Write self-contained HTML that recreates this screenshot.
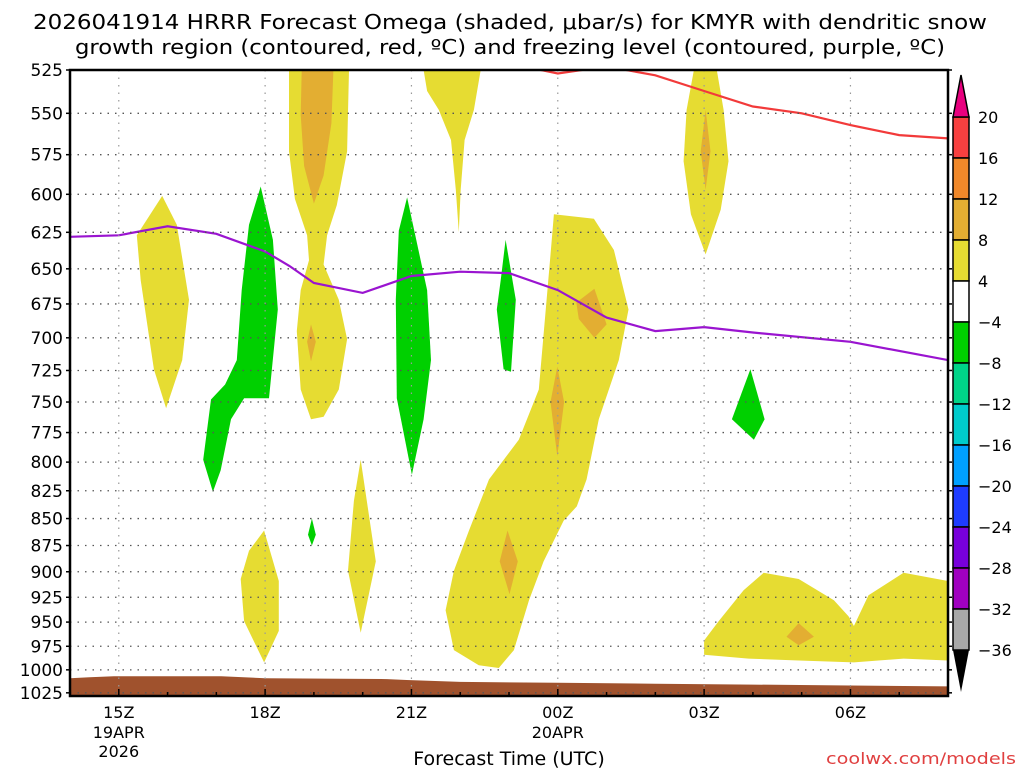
<!DOCTYPE html>
<html><head><meta charset="utf-8"><style>
html,body{margin:0;padding:0;background:#fff}
svg{display:block}
text{font-family:"DejaVu Sans","Liberation Sans",sans-serif;fill:#000}
</style></head><body>
<svg id="chart" width="1024" height="768" viewBox="0 0 1024 768" xmlns="http://www.w3.org/2000/svg">
<text x="510" y="29" font-size="20" text-anchor="middle" textLength="954" lengthAdjust="spacingAndGlyphs">2026041914 HRRR Forecast Omega (shaded, μbar/s) for KMYR with dendritic snow</text>
<text x="510" y="54" font-size="20" text-anchor="middle" textLength="870" lengthAdjust="spacingAndGlyphs">growth region (contoured, red, ºC) and freezing level (contoured, purple, ºC)</text>
<g id="plot"></g>
<text x="509" y="765" font-size="19" text-anchor="middle">Forecast Time (UTC)</text>
<text x="1016" y="764" font-size="16" text-anchor="end" fill="#e04040" style="fill:#e04040" textLength="190" lengthAdjust="spacingAndGlyphs">coolwx.com/models</text>
</svg>
<script>
// ---- data ----
const pressureTicks=[525,550,575,600,625,650,675,700,725,750,775,800,825,850,875,900,925,950,975,1000,1025];
const hourTicks=[15,18,21,24,27,30];
const hourTickLabels=["15Z","18Z","21Z","00Z","03Z","06Z"];
const colorLevels=[20,16,12,8,4,-4,-8,-12,-16,-20,-24,-28,-32,-36];
const colorFills=["#f74040","#f0882a","#e3ae32","#e6dc32","#ffffff","#00d000","#00d488","#00cccc","#00a0ff","#1e3cff","#7800dc","#a000c0","#a8a8a8"];
const freezeHours=[14,15,16,17,18,18.5,19,20,21,22,23,24,25,26,27,28,30,32];
const freezeLevel=[628,627,621,626,638,648,660,667,655,652,653,665,685,695,692,696,703,717];
const dgzHours=[23.3,24,25,26,27,28,29,30,31,32];
const dgzLevel=[523,527,523,528,537,546,550,557,563,565];
const groundHours=[14,14.4,14.9,17.1,18,20.5,20.9,22,24,26,28,30,32];
const groundLevel=[1009,1008,1007,1007,1009,1010,1011,1013,1014,1015,1016,1017,1018];
// shaded omega regions: [hour, pressure] vertices
const yellowA=[[15.89,601],[16.19,620],[16.44,672],[16.30,717],[15.97,755],[15.72,724],[15.45,658],[15.37,627]];
const yellowC=[[18.49,525],[19.72,525],[19.68,573],[19.47,607],[19.27,627],[19.20,647],[19.51,672],[19.68,701],[19.51,740],[19.20,762],[18.94,764],[18.73,740],[18.65,695],[18.73,665],[18.90,644],[18.86,627],[18.61,603],[18.49,573]];
const yellowD=[[21.25,525],[22.42,525],[22.28,548],[22.09,566],[22.01,597],[21.97,625],[21.91,597],[21.81,566],[21.56,548],[21.32,537]];
const yellowG=[[23.92,613],[24.74,616],[25.15,637],[25.45,679],[25.25,717],[24.84,764],[24.59,815],[24.39,839],[24.12,852],[23.71,890],[23.41,928],[23.10,979],[22.79,998],[22.38,995],[21.87,979],[21.70,938],[21.87,899],[22.18,861],[22.59,815],[23.20,781],[23.61,740],[23.77,672],[23.86,637]];
const yellowH=[[26.79,525],[27.26,525],[27.40,548],[27.50,579],[27.34,610],[27.03,640],[26.73,613],[26.58,579],[26.64,548]];
const yellowJ=[[19.96,798],[20.27,890],[19.96,961],[19.70,899],[19.82,834]];
const yellowL=[[17.98,861],[18.28,909],[18.28,959],[17.98,992],[17.57,949],[17.50,907],[17.67,880]];
const yellowM=[[27.0,969],[27.3,949],[27.81,918],[28.22,901],[28.94,907],[29.66,928],[29.96,944],[30.07,954],[30.37,923],[31.09,901],[32,909],[32,990],[31.09,988],[30.07,992],[28.94,990],[27.91,988],[27.0,984]];
const orangeC=[[18.75,525],[19.4,525],[19.36,556],[19.2,588],[19.0,606],[18.8,582],[18.73,551]];
const orangeC2=[[18.94,690],[19.04,703],[18.94,718],[18.86,703]];
const orangeG1=[[24.75,664],[25.0,690],[24.75,700],[24.43,686],[24.38,674]];
const orangeG2=[[23.99,722],[24.13,750],[23.99,795],[23.85,750]];
const orangeG3=[[22.97,861],[23.18,890],[23.01,922],[22.81,890]];
const orangeH=[[27.03,548],[27.13,573],[27.03,597],[26.93,573]];
const orangeM=[[28.94,951],[29.25,965],[28.94,974],[28.69,965]];
const greenB=[[17.91,595],[18.16,630],[18.26,679],[18.08,747],[17.57,747],[17.30,764],[17.09,807],[16.93,826],[16.73,798],[16.89,748],[17.18,736],[17.42,717],[17.52,665],[17.67,620]];
const greenE=[[20.91,602],[21.32,665],[21.40,717],[21.25,764],[21.01,811],[20.70,747],[20.68,672],[20.74,624]];
const greenF=[[22.93,630],[23.14,672],[23.04,726],[22.89,724],[22.75,679],[22.83,658]];
const greenI=[[27.95,724],[28.24,764],[28.02,781],[27.57,764]];
const greenK=[[18.96,850],[19.04,865],[18.96,875],[18.88,865]];

// ---- axes ----
const X0=70,X1=948,Y0=70,Y1=696;
const H0=14,H1=32,P0=525,P1=1028.5;
const xs=h=>X0+(h-H0)/(H1-H0)*(X1-X0);
const ys=p=>Y0+(Math.log(p)-Math.log(P0))/(Math.log(P1)-Math.log(P0))*(Y1-Y0);
const NS="http://www.w3.org/2000/svg";
const plot=document.getElementById('plot');
function mk(tag,attrs,parent){const e=document.createElementNS(NS,tag);for(const k in attrs)e.setAttribute(k,attrs[k]);(parent||plot).appendChild(e);return e;}
function poly(pts,fill,name){
  const e=mk('polygon',{points:pts.map(p=>xs(p[0]).toFixed(1)+','+ys(p[1]).toFixed(1)).join(' '),fill:fill});
  
  
}
const clip=mk('clipPath',{id:'pc'});mk('rect',{x:X0,y:Y0,width:X1-X0,height:Y1-Y0},clip);
const g=mk('g',{'clip-path':'url(#pc)'});
function gpoly(pts,fill,name){
  const e=mk('polygon',{points:pts.map(p=>xs(p[0]).toFixed(1)+','+ys(p[1]).toFixed(1)).join(' '),fill:fill},g);
  
  
}
const Y4="#e6dc32",O8="#e3ae32",GR="#00d000";
[[yellowA,'yellow-region-a'],[yellowC,'yellow-region-c'],[yellowD,'yellow-region-d'],[yellowG,'yellow-region-g'],[yellowH,'yellow-region-h'],[yellowJ,'yellow-region-j'],[yellowL,'yellow-region-l'],[yellowM,'yellow-region-m']].forEach(a=>gpoly(a[0],Y4,a[1]));
[[orangeC,'orange-region-c'],[orangeC2,'orange-region-c2'],[orangeG1,'orange-region-g1'],[orangeG2,'orange-region-g2'],[orangeG3,'orange-region-g3'],[orangeH,'orange-region-h'],[orangeM,'orange-region-m']].forEach(a=>gpoly(a[0],O8,a[1]));
[[greenB,'green-region-b'],[greenE,'green-region-e'],[greenF,'green-region-f'],[greenI,'green-region-i'],[greenK,'green-region-k']].forEach(a=>gpoly(a[0],GR,a[1]));
// gridlines
pressureTicks.forEach(p=>{
  const l=mk('line',{x1:X0,x2:X1,y1:ys(p),y2:ys(p),stroke:'#555','stroke-width':1.3,'stroke-dasharray':'1.5 6'});
  
  
});
hourTicks.forEach(h=>{
  const l=mk('line',{x1:xs(h),x2:xs(h),y1:Y0,y2:Y1,stroke:'#999','stroke-width':1.2,'stroke-dasharray':'1.5 6'});
  
  
});
// ground
{
  let d='M'+xs(groundHours[0])+','+Y1;
  groundHours.forEach((h,i)=>{d+=' L'+xs(h).toFixed(1)+','+ys(groundLevel[i]).toFixed(1);});
  d+=' L'+X1+','+Y1+' Z';
  const e=mk('path',{d:d,fill:'#a0522d'},g);
  
  
}
// lines
function line(hs,ps,color,name){
  const e=mk('polyline',{points:hs.map((h,i)=>xs(h).toFixed(1)+','+ys(ps[i]).toFixed(1)).join(' '),fill:'none',stroke:color,'stroke-width':2.2},g);
  
  
}
line(freezeHours,freezeLevel,'#9a14d0','freezing-level-line');
line(dgzHours,dgzLevel,'#f23a3a','dendritic-growth-line');
// frame
const fr=mk('rect',{x:X0,y:Y0,width:X1-X0,height:Y1-Y0,fill:'none',stroke:'#000','stroke-width':2.5});


// y ticks
pressureTicks.forEach(p=>{
  mk('line',{x1:X0-4,x2:X0,y1:ys(p),y2:ys(p),stroke:'#000','stroke-width':1.5});
  mk('line',{x1:X1,x2:X1+4,y1:ys(p),y2:ys(p),stroke:'#000','stroke-width':1.5});
  const t=mk('text',{x:X0-7,y:ys(p)+6,'font-size':17,'text-anchor':'end'});
  t.textContent=p;
  
  
});
for(let h=15;h<=31;h++){
  mk('line',{x1:xs(h),x2:xs(h),y1:Y1,y2:Y1-(hourTicks.includes(h)?7:4),stroke:'#000','stroke-width':1.5});
}
hourTicks.forEach((h,i)=>{
  const t=mk('text',{x:xs(h),y:718,'font-size':16,'text-anchor':'middle'});
  t.textContent=hourTickLabels[i];
  
  
});
[['19APR',15,738],['2026',15,757],['20APR',24,738]].forEach(a=>{
  const t=mk('text',{x:xs(a[1]),y:a[2],'font-size':16,'text-anchor':'middle'});
  t.textContent=a[0];
  
  
});
// colorbar
const CX=953,CW=16,CT=117,CS=41;
colorFills.forEach((c,i)=>{
  const r=mk('rect',{x:CX,y:CT+i*CS,width:CW,height:CS,fill:c,stroke:'#000','stroke-width':1.5});
  
  
});
const tp=mk('polygon',{points:`${CX},${CT} ${CX+CW},${CT} ${CX+CW/2},${CT-42}`,fill:'#e8007f',stroke:'#000','stroke-width':1.5});


const bt=mk('polygon',{points:`${CX},${CT+13*CS} ${CX+CW},${CT+13*CS} ${CX+CW/2},${CT+13*CS+42}`,fill:'#000'});


colorLevels.forEach((v,i)=>{
  const t=mk('text',{x:978,y:CT+i*CS+6,'font-size':16});
  t.textContent=v<0?'\u2212'+(-v):String(v);
  
  
});
</script>
</body></html>
